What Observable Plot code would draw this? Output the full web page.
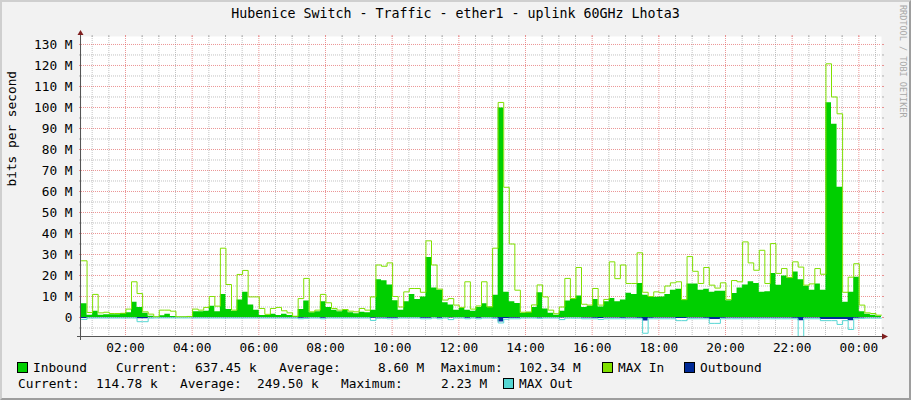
<!DOCTYPE html>
<html><head><meta charset="utf-8">
<script src="https://cdn.jsdelivr.net/npm/d3@7"></script>
<script src="https://cdn.jsdelivr.net/npm/@observablehq/plot@0.6"></script>
<style>
html,body{margin:0;padding:0;background:#fff;}
#wrap{position:relative;width:911px;height:400px;background:#f2f2f2;overflow:hidden;font-family:"DejaVu Sans Mono",monospace;color:#000;}
#title{position:absolute;left:0;top:0;width:911px;height:26px;line-height:28px;text-align:center;font-size:13.3px;}
#chart{position:absolute;left:0;top:26px;}
#frame{position:absolute;left:0;top:0;width:911px;height:400px;box-sizing:border-box;border:2px solid;border-color:#cfcfcf #9e9e9e #9e9e9e #cfcfcf;pointer-events:none;}
.lg{position:absolute;font-size:12.8px;white-space:pre;line-height:14px;}
.sw{position:absolute;width:9px;height:9px;border:1px solid #000;}
#wm{position:absolute;left:898px;top:5px;writing-mode:vertical-rl;font-size:8.5px;color:#a8a8a8;line-height:9px;}
</style></head>
<body><div id="wrap">
<div id="title">Hubenice Switch - Traffic - ether1 - uplink 60GHz Lhota3</div>
<div id="chart"></div>
<div id="legend">
  <div class="sw" style="left:17px;top:362px;background:#00cf00"></div>
  <div class="lg" style="left:33px;top:361px">Inbound</div>
  <div class="lg" style="left:116px;top:361px">Current:</div>
  <div class="lg" style="left:195px;top:361px">637.45 k</div>
  <div class="lg" style="left:279px;top:361px">Average:</div>
  <div class="lg" style="left:378px;top:361px">8.60 M</div>
  <div class="lg" style="left:441px;top:361px">Maximum:</div>
  <div class="lg" style="left:519px;top:361px">102.34 M</div>
  <div class="sw" style="left:602px;top:362px;background:#80e000"></div>
  <div class="lg" style="left:618px;top:361px">MAX In</div>
  <div class="sw" style="left:684px;top:362px;background:#002a97"></div>
  <div class="lg" style="left:700px;top:361px">Outbound</div>
  <div class="lg" style="left:18px;top:377px">Current:</div>
  <div class="lg" style="left:96px;top:377px">114.78 k</div>
  <div class="lg" style="left:180px;top:377px">Average:</div>
  <div class="lg" style="left:257px;top:377px">249.50 k</div>
  <div class="lg" style="left:341px;top:377px">Maximum:</div>
  <div class="lg" style="left:441px;top:377px">2.23 M</div>
  <div class="sw" style="left:503px;top:378px;background:#55d6d3"></div>
  <div class="lg" style="left:519px;top:377px">MAX Out</div>
</div>
<div id="wm">RRDTOOL / TOBI OETIKER</div>
<div id="frame"></div>
</div>
<script>
// 10-minute samples starting 00:40:48, values in Mbit/s
const seriesStart = "00:40:48";
const inbound = [
6.5,1.1,3.0,1.1,1.3,1.3,1.3,1.9,2.2,7.3,
4.8,2.0,0.6,0.2,0.8,1.5,0.5,0.2,0.2,0.3,
2.7,2.7,3.0,5.4,2.7,11,3.8,3.0,8.3,12,
6.0,3.5,1.0,1.0,1.5,1.0,1.5,1.0,0.5,3.8,
7.8,2.2,2.7,7.5,4.8,3.5,2.7,3.5,2.2,1.8,
2.5,2.2,3.5,18,17.5,15.5,8,3.5,7.5,11,
8.6,9.8,28.6,14,13,7,5.9,3.5,4.3,3.5,
3.0,4.8,6.5,5,10.6,99.7,12,7.5,6.7,2.0,
2.5,4.8,11.8,4.0,2.0,1.1,3,7.9,8.6,10.2,
4.8,5.4,8.6,5.0,7.5,9,7.5,8.3,11.5,11,
16.2,10.6,10,9.6,9.8,11,13,13.5,8.3,16,
16,13,13.5,12,12.5,12.5,8,11.4,14,15.5,
17,16.2,12,12.2,21,15.4,19.7,18.7,21.7,18,
14.9,13,16,13,102.3,92,62,7.3,12,19.2,
2.7,1.5,1.1,0.6];
const maxIn = [
27,2.4,11,2.2,2.5,1.9,1.9,2.0,4.0,17,
11.4,2.7,1.6,0.3,3.5,3.5,3.0,0.3,0.3,0.5,
4.0,3.5,4.8,10,5.4,33,15.7,3.5,20.5,22.4,
9.8,9.8,4.3,1.5,4.3,4.8,3.2,2.2,0.6,9.0,
18.6,2.7,3.5,11,7.0,4.3,3.5,3.8,3.0,2.7,
4.3,3.5,9.8,25,24.4,26,10,5,12.2,13.8,
13.8,12,36.5,25,13.5,8.3,9,5.9,4.8,17,
4.0,5.5,17,5,33,102.4,62,35,13,2.5,
2.5,6,15.5,9.8,3.5,1.8,5,18.6,9,23.8,
6.3,5.9,13.8,5.9,8.6,26.5,18.5,25,16.2,16.2,
30.8,12,10,12.2,11.8,15,16.5,17,8.5,29,
22,16.2,23.8,15.4,14,16.5,8.5,17.6,17,36,
26,22.5,32,16.2,35.2,21,23.3,19,26.5,24,
15.4,16,23.3,20.6,120.8,105,97,12,19.2,25.6,
5.9,2.2,1.9,1.1];
const outbound = [
0.5,0.1,0.1,0.1,0.1,0.1,0.1,0.1,0.1,0.1,
0.6,0.6,0.1,0.05,0.1,0.1,0.1,0.05,0.05,0.05,
0.1,0.1,0.1,0.1,0.1,0.1,0.1,0.1,0.1,0.1,
0.1,0.1,0.1,0.1,0.1,0.1,0.1,0.1,0.1,0.4,
0.2,0.1,0.1,0.4,0.1,0.1,0.1,0.1,0.1,0.1,
0.1,0.1,0.4,0.2,0.2,0.4,0.4,0.1,0.1,0.1,
0.1,0.4,0.4,0.1,0.4,0.1,0.3,0.1,0.1,0.4,
0.1,0.4,0.1,0.1,0.2,2.2,0.5,0.4,0.4,0.1,
0.1,0.1,0.2,0.1,0.1,0.1,0.3,0.1,0.1,0.1,
0.3,0.3,0.4,0.5,0.3,0.3,0.3,0.4,0.3,0.3,
0.4,1.7,0.4,0.3,0.3,0.3,0.3,0.5,0.5,0.3,
0.3,0.3,0.4,1.0,1.0,0.4,0.3,0.3,0.3,0.3,
0.3,0.3,0.3,0.3,0.3,0.3,0.3,0.3,0.4,1.5,
0.3,0.3,0.3,1.0,1.0,1.0,1.0,1.0,1.5,0.4,
0.2,0.1,0.1,0.1];
const maxOut = [
0.9,0.25,0.25,0.25,0.25,0.25,0.25,0.25,0.25,0.25,
2.0,2.0,0.3,0.2,0.2,0.2,0.2,0.2,0.2,0.2,
0.25,0.25,0.25,0.25,0.25,0.25,0.25,0.25,0.25,0.25,
0.25,0.25,0.25,0.25,0.25,0.25,0.25,0.25,0.25,0.6,
0.4,0.25,0.25,0.6,0.25,0.25,0.25,0.25,0.25,0.25,
0.25,0.25,1.4,0.4,0.4,0.6,0.6,0.25,0.25,0.25,
0.25,0.6,0.6,0.25,0.6,0.25,1.0,0.25,0.25,0.6,
0.25,0.6,0.25,0.25,0.4,2.6,0.8,0.6,0.6,0.25,
0.25,0.25,0.4,0.25,0.25,0.25,1.0,0.3,0.3,0.3,
0.6,0.6,0.6,0.9,0.6,0.6,0.6,0.6,0.6,0.6,
0.6,7.5,0.6,0.6,0.6,0.6,0.6,1.5,1.5,0.6,
0.6,0.6,0.6,2.8,2.8,0.6,0.6,0.6,0.6,0.6,
0.6,0.6,0.6,0.6,0.6,0.6,0.6,0.6,0.6,9.0,
0.6,0.6,0.6,1.5,1.5,1.5,3.3,1.5,5.7,0.6,
0.4,0.3,0.3,0.3];
const xTickLabels = ["02:00","04:00","06:00","08:00","10:00","12:00","14:00","16:00","18:00","20:00","22:00","00:00"];
const yTickLabels = ["0","10 M","20 M","30 M","40 M","50 M","60 M","70 M","80 M","90 M","100 M","110 M","120 M","130 M"];

const base = Date.UTC(2024, 0, 1);
const [hh, mm, ss] = seriesStart.split(":").map(Number);
const t0 = base + ((hh * 60 + mm) * 60 + ss) * 1000;
const stepMs = 10 * 60 * 1000;
const tEnd = t0 + 24 * 3600 * 1000;

const rows = inbound.map((v, i) => ({
  t: new Date(t0 + i * stepMs),
  inb: v * 1e6, mxi: maxIn[i] * 1e6,
  out: -outbound[i] * 1e6, mxo: -maxOut[i] * 1e6
}));
rows.push({...rows[rows.length - 1], t: new Date(t0 + inbound.length * stepMs)});

const xTicks = xTickLabels.map((s, i) => {
  const [h, m] = s.split(":").map(Number);
  return new Date(base + ((i === xTickLabels.length - 1 && h === 0 ? 24 : h) * 60 + m) * 60000);
});
const yTicks = yTickLabels.map(s => s === "0" ? 0 : parseFloat(s) * 1e6);

const majorX = xTicks;
const minorX = d3.utcMinute.every(30).range(new Date(t0), new Date(tEnd)).filter(d => d.getUTCMinutes() !== 0 || d.getUTCHours() % 2 !== 0);
const majorY = yTicks;
const minorY = d3.range(-5e6, 134e6, 5e6).filter(v => Math.round(v / 5e6) % 2 !== 0);

const gridMinor = {stroke: "#8f8f8f", strokeOpacity: 0.55, strokeDasharray: "1,1"};
const gridMajor = {stroke: "#de4f4f", strokeOpacity: 0.6, strokeDasharray: "1,1"};

function decor(index, scales, values, dims) {
  const {width, height, marginTop, marginRight, marginBottom, marginLeft} = dims;
  const xl = marginLeft, xr = width - marginRight, yb = height - marginBottom, yt = marginTop;
  const g = d3.create("svg:g");
  g.append("path").attr("d", `M${xl - 4},${yb + 0.5}H${xr + 2}`).attr("stroke", "#555").attr("fill", "none");
  g.append("path").attr("d", `M${xl - 0.5},${yb + 4}V${yt - 3}`).attr("stroke", "#555").attr("fill", "none");
  g.append("path").attr("d", `M${xl - 3.5},${yt - 1}L${xl - 0.5},${yt - 6}L${xl + 2.5},${yt - 1}Z`).attr("fill", "#801f1f");
  g.append("path").attr("d", `M${xr + 1},${yb - 2.5}L${xr + 7},${yb + 0.5}L${xr + 1},${yb + 3.5}Z`).attr("fill", "#801f1f");
  return g.node();
}

const tickOpts = (stroke, anchor) => ({anchor, tickSize: 2, text: null, label: null, stroke});

const chart = Plot.plot({
  width: 911, height: 330,
  marginLeft: 81, marginRight: 30, marginTop: 10, marginBottom: 20,
  style: {fontFamily: "DejaVu Sans Mono", fontSize: "12.8px", background: "transparent", color: "#000", overflow: "visible"},
  x: {type: "utc", domain: [new Date(t0), new Date(tEnd)], label: null},
  y: {domain: [-9.05e6, 133.8e6], label: null},
  marks: [
    Plot.frame({fill: "#fff", stroke: null}),
    Plot.ruleY(minorY, gridMinor),
    Plot.ruleX(minorX, gridMinor),
    Plot.ruleY(majorY, gridMajor),
    Plot.ruleX(majorX, gridMajor),
    Plot.axisX(minorX, tickOpts("#b0b0b0", "top")),
    Plot.axisX(majorX, tickOpts("#e89090", "top")),
    Plot.axisY(minorY, tickOpts("#b0b0b0", "left")),
    Plot.axisY(majorY, tickOpts("#e89090", "left")),
    Plot.axisY(minorY, tickOpts("#b0b0b0", "right")),
    Plot.axisY(majorY, tickOpts("#e89090", "right")),
    Plot.areaY(rows, {x: "t", y: "inb", curve: "step-after", fill: "#00cf00"}),
    Plot.lineY(rows, {x: "t", y: "mxi", curve: "step-after", stroke: "#80e000", strokeWidth: 1}),
    Plot.areaY(rows, {x: "t", y: "out", curve: "step-after", fill: "#002a97"}),
    Plot.lineY(rows, {x: "t", y: "mxo", curve: "step-after", stroke: "#55d6d3", strokeWidth: 1}),
    Plot.axisY(yTicks, {anchor: "left", tickSize: 0, tickPadding: 9, label: null,
      tickFormat: d => yTickLabels[yTicks.indexOf(d)]}),
    Plot.axisX(xTicks, {anchor: "bottom", tickSize: 0, tickPadding: 6, label: null,
      tickFormat: d => xTickLabels[xTicks.findIndex(x => +x === +d)]}),
    Plot.text(["bits per second"], {frameAnchor: "left", dx: -70, rotate: -90, fill: "#000"}),
    decor
  ]
});
document.getElementById("chart").appendChild(chart);
</script>
</body></html>
